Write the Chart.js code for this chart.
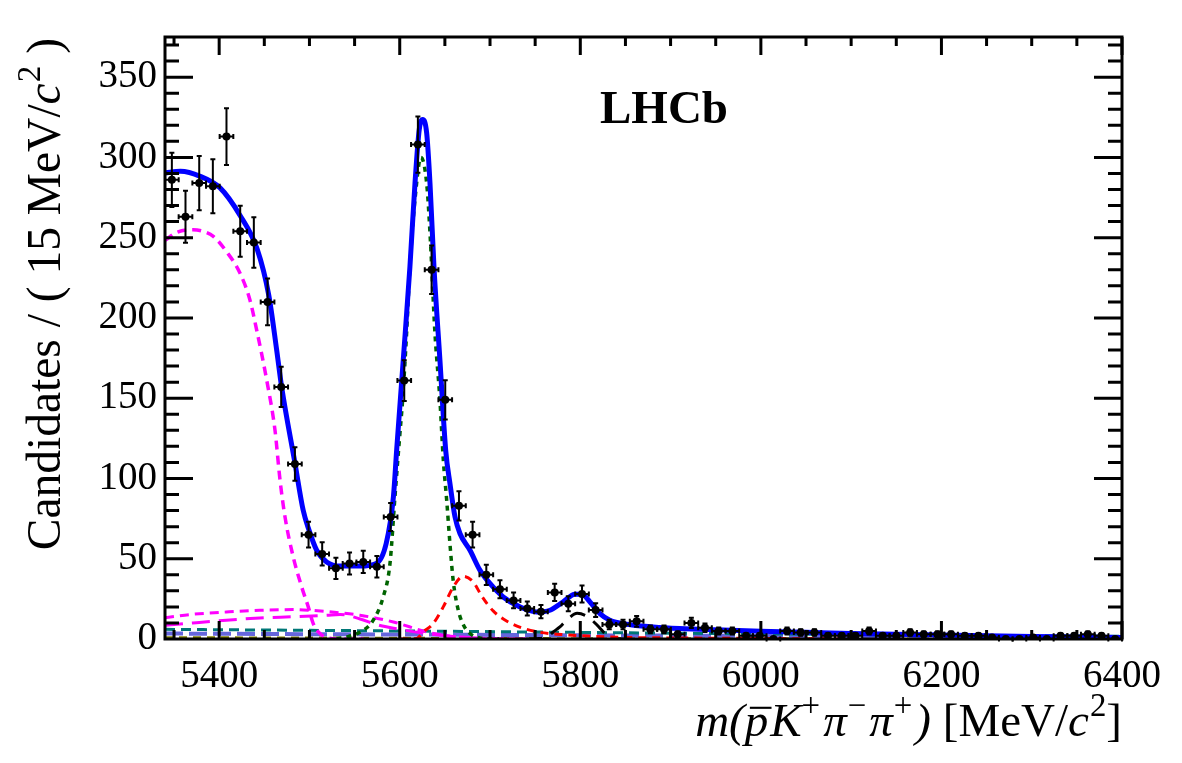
<!DOCTYPE html>
<html>
<head>
<meta charset="utf-8">
<script src="https://cdn.jsdelivr.net/npm/chart.js@4/dist/chart.umd.min.js"></script>
<style>
  html, body { margin: 0; padding: 0; background: #fff; }
  #massChart { display: block; }
</style>
</head>
<body>
<canvas id="massChart" width="1182" height="763"></canvas>
<script>
// 70 bins between 5340 and 6400 MeV/c2
const binCenters = [
  5347.6, 5362.7, 5377.9, 5393.0, 5408.1, 5423.3, 5438.4, 5453.6, 5468.7, 5483.9,
  5499.0, 5514.1, 5529.3, 5544.4, 5559.6, 5574.7, 5589.9, 5605.0, 5620.1, 5635.3,
  5650.4, 5665.6, 5680.7, 5695.9, 5711.0, 5726.1, 5741.3, 5756.4, 5771.6, 5786.7,
  5801.9, 5817.0, 5832.1, 5847.3, 5862.4, 5877.6, 5892.7, 5907.9, 5923.0, 5938.1,
  5953.3, 5968.4, 5983.6, 5998.7, 6013.9, 6029.0, 6044.1, 6059.3, 6074.4, 6089.6,
  6104.7, 6119.9, 6135.0, 6150.1, 6165.3, 6180.4, 6195.6, 6210.7, 6225.9, 6241.0,
  6256.1, 6271.3, 6286.4, 6301.6, 6316.7, 6331.9, 6347.0, 6362.1, 6377.3, 6392.4
];
const candidates = [
  286, 263, 284, 282, 313, 254, 247, 210, 157, 109,
  65, 53, 44, 47, 48, 45, 76, 161, 308, 230,
  149, 83, 65, 40, 31, 24, 19, 17, 29, 22,
  28, 18, 9, 9, 11, 6, 6, 3, 10, 7,
  5, 5, 2, 2, 0, 5, 4, 4, 2, 2,
  2, 5, 2, 2, 4, 3, 3, 3, 2, 2,
  1, 0, 0, 1, 0, 2, 2, 3, 2, 0
];
const binHalfWidth = 7.57;

const xTickLabels = [5400, 5600, 5800, 6000, 6200, 6400];
const yTickLabels = [0, 50, 100, 150, 200, 250, 300, 350];

// fit components
const totalMass = [5340, 5357, 5379, 5401, 5423, 5442, 5455, 5463.7, 5469.2, 5484, 5493, 5499.5, 5508, 5519, 5534, 5556, 5574, 5585, 5593, 5596.6, 5603.9, 5611.3, 5616.9, 5621.6, 5625.4, 5629.8, 5633.5, 5637.9, 5644.5, 5651, 5655.6, 5661.2, 5666.7, 5677.8, 5688.8, 5699.9, 5714.6, 5733, 5751.6, 5766.4, 5781, 5794, 5801.5, 5810.7, 5821.7, 5832.8, 5851.3, 5880.8, 5910, 5950, 6000, 6050, 6100, 6150, 6200, 6250, 6300, 6350, 6400];
const totalYield = [290.3, 291.3, 288.2, 281, 264, 243, 214, 180, 157, 109.4, 80.3, 67.8, 55.3, 48, 45.4, 45.4, 47, 59.5, 88.6, 117.7, 173.9, 232, 284, 317.3, 323.6, 315.3, 284, 232, 173.9, 117, 97, 76.1, 65.7, 55.3, 42.9, 34.6, 26.2, 20, 16.8, 17.9, 23.1, 27.9, 27.9, 23.1, 15.8, 11.7, 9.2, 7.5, 6.5, 5.7, 4.9, 4.2, 3.5, 3.0, 2.5, 2.0, 1.6, 1.3, 1.0];

const partRecoMass = [5340, 5353, 5371, 5382, 5393.5, 5408, 5423, 5434, 5441.5, 5452.6, 5461.8, 5467.4, 5472.9, 5482, 5491.4, 5498.7, 5504.2, 5511.7, 5526, 5560];
const partRecoYield = [248.3, 253.3, 255, 254, 250.8, 241.4, 228, 211.3, 192.6, 161.4, 130.2, 99, 76.1, 51.2, 32.4, 20, 9.6, 3.4, 0.2, 0];

const signalMass = [5530, 5541, 5559.6, 5570.7, 5581.7, 5589.2, 5594.7, 5600.2, 5603.2, 5607.6, 5611.3, 5616.9, 5623.5, 5629.8, 5633.5, 5639, 5644.5, 5648.2, 5652, 5655.6, 5659.3, 5664.8, 5670.3, 5677.8, 5690, 5710];
const signalYield = [0.3, 1.2, 5.4, 11.7, 26.2, 47, 88.6, 128, 148.9, 190.5, 232, 273.7, 300, 284, 252.9, 190.5, 148.9, 112, 86.5, 59.5, 36, 18, 9, 3.4, 0.5, 0];

const secondPeakMass = [5600, 5618.7, 5626, 5637, 5648.2, 5659.3, 5670.3, 5681.4, 5690.5, 5703.5, 5718.3, 5735, 5753, 5779, 5808, 5850, 5920, 6000, 6100];
const secondPeakYield = [0, 0.3, 4.4, 9.6, 20, 32.4, 39.1, 35.6, 27, 17.5, 11.2, 7, 4.4, 2.8, 1.8, 1, 0.6, 0.3, 0];

const thirdPeakMass = [5740, 5751, 5762.7, 5770, 5777.4, 5784.8, 5796.5, 5808.8, 5818, 5827.3, 5836.6, 5850];
const thirdPeakYield = [0, 0.2, 1.2, 4.4, 7.5, 11.7, 16, 13.7, 9, 3.5, 0.3, 0];

const broadAMass = [5340, 5371, 5408, 5445, 5482, 5500, 5530, 5556, 5593, 5630, 5660, 5700, 5740];
const broadAYield = [13.3, 15.4, 16.8, 17.9, 18.3, 17.9, 16.5, 14.8, 10.6, 4.4, 1.5, 0.3, 0];

const broadBMass = [5340, 5371, 5408, 5445, 5482, 5519, 5534, 5556, 5574, 5600, 5630, 5667, 5700, 5740];
const broadBYield = [8.5, 10, 11.7, 13.1, 13.9, 14.8, 15.3, 12.5, 9, 6, 3.4, 1.2, 0.3, 0];

const combMass = [5340, 5500, 5650, 5800, 5950, 6100, 6250, 6400];
const combYield = [6.0, 5.4, 4.8, 4.1, 3.4, 2.8, 2.2, 1.7];

const misIdMass = [5340, 5500, 5650, 5800, 5950, 6100, 6250, 6400];
const misIdYield = [3.4, 3.0, 2.7, 2.3, 2.0, 1.7, 1.4, 1.2];

const otherMass = [5340, 5500, 5700, 6000, 6400];
const otherYield = [0.8, 0.6, 0.3, 0.1, 0];

const serif = '"Liberation Serif", "Times New Roman", serif';

function curve(mass, vals, color, width, dash, order) {
    return {
        type: 'line',
        data: mass.map((m, i) => ({ x: m, y: vals[i] })),
        borderColor: color,
        borderWidth: width,
        borderDash: dash,
        pointRadius: 0,
        fill: false,
        cubicInterpolationMode: 'monotone',
        order: order
    };
}

// mixed italic / superscript text on the canvas
function drawRich(ctx, parts, x, y, size, align) {
    const items = parts.map(p => {
        const fs = p.sup ? size * 0.7 : size;
        const font = (p.it ? 'italic ' : '') + (p.bold ? 'bold ' : '') + fs + 'px ' + serif;
        ctx.font = font;
        return { p, font, w: ctx.measureText(p.t).width + (p.gap || 0) };
    });
    const total = items.reduce((s, it) => s + it.w, 0);
    let cx = align === 'right' ? x - total : x;
    items.forEach(it => {
        ctx.font = it.font;
        const dy = it.p.sup ? -size * 0.42 : 0;
        ctx.fillText(it.p.t, cx, y + dy);
        if (it.p.bar) {
            ctx.save();
            ctx.lineWidth = size * 0.045;
            ctx.beginPath();
            ctx.moveTo(cx + it.w * 0.2, y - size * 0.6);
            ctx.lineTo(cx + it.w * 1.05, y - size * 0.6);
            ctx.stroke();
            ctx.restore();
        }
        cx += it.w;
    });
}

const errorBars = {
    id: 'errorBars',
    afterDatasetsDraw(chart) {
        const { ctx, scales: { x, y } } = chart;
        ctx.save();
        ctx.strokeStyle = '#000';
        ctx.lineWidth = 2;
        binCenters.forEach((m, i) => {
            const n = candidates[i];
            const px = x.getPixelForValue(m);
            const py = y.getPixelForValue(n);
            const xl = x.getPixelForValue(m - binHalfWidth);
            const xr = x.getPixelForValue(m + binHalfWidth);
            ctx.beginPath();
            ctx.moveTo(xl, py); ctx.lineTo(xr, py);
            ctx.moveTo(xl, py - 2.5); ctx.lineTo(xl, py + 2.5);
            ctx.moveTo(xr, py - 2.5); ctx.lineTo(xr, py + 2.5);
            if (n > 0) {
                const e = Math.sqrt(n);
                const yt = y.getPixelForValue(n + e);
                const yb = y.getPixelForValue(n - e);
                ctx.moveTo(px, yt); ctx.lineTo(px, yb);
                ctx.moveTo(px - 2.5, yt); ctx.lineTo(px + 2.5, yt);
                ctx.moveTo(px - 2.5, yb); ctx.lineTo(px + 2.5, yb);
            }
            ctx.stroke();
        });
        ctx.restore();
    }
};

const frameAndText = {
    id: 'frameAndText',
    afterDraw(chart) {
        const { ctx, chartArea: a, scales: { x, y } } = chart;
        ctx.save();
        ctx.strokeStyle = '#000';
        ctx.fillStyle = '#000';
        ctx.lineWidth = 3;
        ctx.beginPath();
        for (let v = 5350; v <= 6400; v += 50) {
            const px = x.getPixelForValue(v);
            const len = v % 200 === 0 ? 18 : 9;
            ctx.moveTo(px, a.bottom); ctx.lineTo(px, a.bottom - len);
            ctx.moveTo(px, a.top); ctx.lineTo(px, a.top + len);
        }
        for (let v = 10; v <= 370; v += 10) {
            const py = y.getPixelForValue(v);
            const len = v % 50 === 0 ? 28 : 14;
            ctx.moveTo(a.left, py); ctx.lineTo(a.left + len, py);
            ctx.moveTo(a.right, py); ctx.lineTo(a.right - len, py);
        }
        ctx.stroke();
        ctx.strokeRect(a.left, a.top, a.right - a.left, a.bottom - a.top);

        ctx.textBaseline = 'alphabetic';
        ctx.lineWidth = 2;
        // LHCb label
        drawRich(ctx, [{ t: 'LHCb', bold: true }], 600, 123, 47, 'left');

        // x title
        drawRich(ctx, [
            { t: 'm(', it: true },
            { t: 'p', it: true, bar: true, gap: 2 },
            { t: 'K', it: true },
            { t: '+', sup: true, gap: 3 },
            { t: '\u03c0', it: true, gap: 1 },
            { t: '\u2212', sup: true, gap: 3 },
            { t: '\u03c0', it: true, gap: 1 },
            { t: '+', sup: true, gap: 3 },
            { t: ')', it: true },
            { t: ' [MeV/' },
            { t: 'c', it: true, gap: 1 },
            { t: '2', sup: true },
            { t: ']' }
        ], a.right, 736, 47, 'right');

        // y title, rotated
        ctx.translate(60, 38);
        ctx.rotate(-Math.PI / 2);
        drawRich(ctx, [
            { t: 'Candidates / ( 15 MeV/' },
            { t: 'c', it: true, gap: 1 },
            { t: '2', sup: true },
            { t: ' )' }
        ], 0, 0, 47.5, 'right');
        ctx.restore();
    }
};

document.addEventListener('DOMContentLoaded', () => {
    const ctx = document.getElementById('massChart').getContext('2d');
    new Chart(ctx, {
        type: 'line',
        data: {
            datasets: [
                {
                    type: 'scatter',
                    data: binCenters.map((m, i) => ({ x: m, y: candidates[i] })),
                    pointRadius: 4,
                    pointBackgroundColor: '#000',
                    pointBorderWidth: 0,
                    showLine: false,
                    order: 0
                },
                curve(totalMass, totalYield, '#0000ff', 5, [], 1),
                curve(signalMass, signalYield, '#006400', 3.5, [5, 5], 2),
                curve(secondPeakMass, secondPeakYield, '#ff0000', 3, [8, 6], 3),
                curve(thirdPeakMass, thirdPeakYield, '#000000', 3, [16, 10], 4),
                curve(partRecoMass, partRecoYield, '#ff00ff', 3.5, [9, 6], 5),
                curve(broadAMass, broadAYield, '#ff00ff', 3, [9, 6], 6),
                curve(broadBMass, broadBYield, '#ff00ff', 3, [18, 9], 7),
                curve(combMass, combYield, '#007777', 3, [10, 6], 8),
                curve(misIdMass, misIdYield, '#6666dd', 4, [18, 6], 9),
                curve(otherMass, otherYield, '#808000', 3, [8, 6], 10)
            ]
        },
        options: {
            responsive: false,
            animation: false,
            layout: { padding: { top: 37, right: 60, left: 0, bottom: 0 } },
            plugins: {
                legend: { display: false },
                tooltip: { enabled: false }
            },
            scales: {
                x: {
                    type: 'linear',
                    min: 5340,
                    max: 6400,
                    grid: { display: false, drawTicks: false },
                    border: { display: false },
                    afterBuildTicks: s => { s.ticks = xTickLabels.map(v => ({ value: v })); },
                    afterFit: s => { s.height = 124; },
                    ticks: {
                        autoSkip: false,
                        maxRotation: 0,
                        padding: 14,
                        color: '#000',
                        font: { family: serif, size: 39 },
                        callback: v => String(v)
                    }
                },
                y: {
                    min: 0,
                    max: 375,
                    grid: { display: false, drawTicks: false },
                    border: { display: false },
                    afterBuildTicks: s => { s.ticks = yTickLabels.map(v => ({ value: v })); },
                    afterFit: s => { s.width = 165; },
                    ticks: {
                        autoSkip: false,
                        padding: 8,
                        color: '#000',
                        font: { family: serif, size: 39 },
                        callback: v => String(v)
                    }
                }
            }
        },
        plugins: [errorBars, frameAndText]
    });
});
</script>
</body>
</html>
